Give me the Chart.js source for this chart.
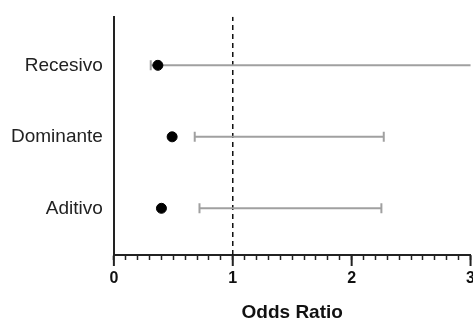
<!DOCTYPE html>
<html>
<head>
<meta charset="utf-8">
<script src="https://cdn.jsdelivr.net/npm/chart.js"></script>
<style>
  html, body { margin: 0; padding: 0; background: #fff; overflow: hidden; }
  #wrap { width: 484px; height: 324px; }
</style>
</head>
<body>
<div id="wrap"><canvas id="forest"></canvas></div>
<script>
// valores
const categories = ['Recesivo', 'Dominante', 'Aditivo'];
const rowPos = [3, 2, 1];
const oddsRatio = [0.37, 0.49, 0.40];
const ciLow = [0.31, 0.68, 0.72];
const ciHigh = [3.6, 2.27, 2.25];   // Recesivo sale del eje
const xTicks = [0, 1, 2, 3];
const refLine = 1;

const yMin = 0.347, yMax = 3.68;
const FONT = 'Liberation Sans, Arial, sans-serif';

// una serie por barra de error
const errorSets = categories.map((c, i) => ({
    type: 'line',
    label: c + ' IC',
    data: [{ x: ciLow[i], y: rowPos[i] }, { x: ciHigh[i], y: rowPos[i] }],
    borderColor: '#a0a0a0',
    borderWidth: 2,
    pointStyle: 'line',
    rotation: 90,
    pointRadius: 5,
    pointBorderColor: '#a0a0a0',
    pointBorderWidth: 2,
    showLine: true,
    order: 2,
}));

// ticks mayores más largos
const majorTicks = {
    id: 'majorTicks',
    afterDraw(chart) {
        const x = chart.scales.x;
        const ctx = chart.ctx;
        const yb = chart.chartArea.bottom;
        ctx.save();
        ctx.strokeStyle = '#222';
        ctx.lineWidth = 2;
        xTicks.forEach(v => {
            const px = x.getPixelForValue(v);
            ctx.beginPath();
            ctx.moveTo(px, yb);
            ctx.lineTo(px, yb + 11);
            ctx.stroke();
        });
        ctx.restore();
    }
};

new Chart(document.getElementById('forest'), {
    type: 'scatter',
    data: {
        datasets: [
            {
                label: 'OR',
                data: oddsRatio.map((v, i) => ({ x: v, y: rowPos[i] })),
                backgroundColor: '#000',
                borderColor: '#000',
                pointRadius: 5,
                pointHoverRadius: 5,
                order: 1,
            },
            ...errorSets,
            {
                type: 'line',
                label: 'ref',
                data: [{ x: refLine, y: yMin }, { x: refLine, y: yMax }],
                borderColor: '#111',
                borderWidth: 1.5,
                borderDash: [5, 4],
                pointRadius: 0,
                showLine: true,
                order: 3,
            },
        ],
    },
    options: {
        responsive: true,
        maintainAspectRatio: false,
        animation: false,
        layout: { padding: { top: 12, right: 0, left: 0, bottom: 0 } },
        plugins: {
            legend: { display: false },
            tooltip: { enabled: false },
        },
        scales: {
            x: {
                type: 'linear',
                min: 0,
                max: 3,
                ticks: {
                    stepSize: 0.1,
                    autoSkip: false,
                    maxRotation: 0,
                    color: '#111',
                    padding: 9,
                    font: { family: FONT, size: 16, weight: 'bold' },
                    callback: v => (Math.abs(v - Math.round(v)) < 1e-6 ? String(Math.round(v)) : ''),
                },
                grid: {
                    display: true,
                    drawOnChartArea: false,
                    drawTicks: true,
                    tickLength: 5,
                    tickColor: '#222',
                    tickWidth: 1.5,
                },
                border: { display: true, color: '#222', width: 2 },
                title: {
                    display: true,
                    text: 'Odds Ratio',
                    color: '#111',
                    padding: { top: 4, bottom: 0 },
                    font: { family: FONT, size: 19, weight: 'bold' },
                },
            },
            y: {
                type: 'linear',
                min: yMin,
                max: yMax,
                afterBuildTicks: axis => { axis.ticks = rowPos.map(v => ({ value: v })); },
                ticks: {
                    color: '#222',
                    padding: 11,
                    font: { family: FONT, size: 19, lineHeight: 0.6 },
                    callback: v => categories[rowPos.indexOf(v)] || '',
                },
                grid: { display: false, drawTicks: false },
                border: { display: true, color: '#222', width: 2 },
            },
        },
    },
    plugins: [majorTicks],
});
</script>
</body>
</html>
